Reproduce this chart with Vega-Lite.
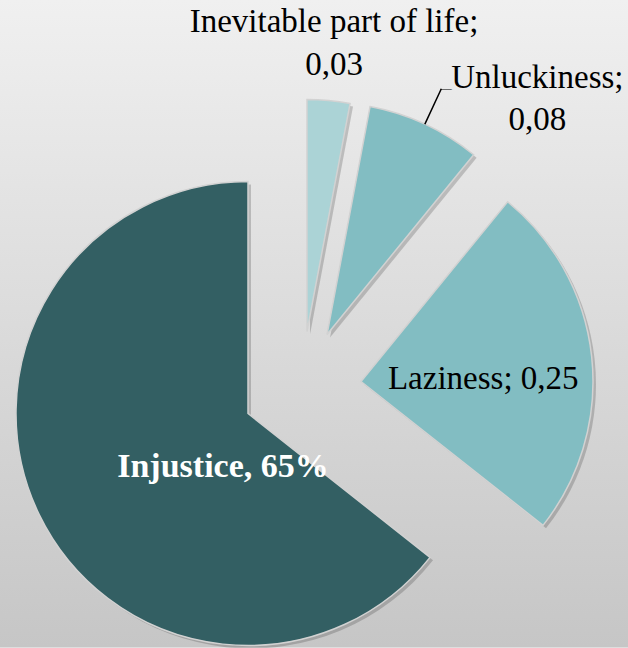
{
  "$schema": "https://vega.github.io/schema/vega-lite/v6.json",
  "width": 628,
  "height": 648,
  "autosize": {"type": "fit", "contains": "padding"},
  "padding": 0,
  "background": "#dedede",
  "config": {
    "view": {"stroke": null},
    "text": {"font": "Liberation Serif"}
  },
  "data": {"values": [
    {"category": "Inevitable part of life", "value": 0.03, "order": 1, "label": "Inevitable part of life;\n0,03"},
    {"category": "Unluckiness", "value": 0.08, "order": 2, "label": "Unluckiness;\n0,08"},
    {"category": "Laziness", "value": 0.25, "order": 3, "label": "Laziness; 0,25"},
    {"category": "Injustice", "value": 0.65, "order": 4, "label": "Injustice, 65%"}
  ]},
  "transform": [
    {"stack": "value", "groupby": [], "sort": [{"field": "order", "order": "ascending"}], "offset": "normalize", "as": ["v0", "v1"]},
    {"fold": ["v0", "v1"], "as": ["edge", "angle"]},
    {"aggregate": [{"op": "mean", "field": "angle", "as": "mid"}], "groupby": ["category", "label", "v0", "v1"]}
  ],
  "layer": [
    {
      "transform": [{"filter": "datum.category === 'Injustice'"}],
      "mark": {"type": "rect", "strokeWidth": 0,
        "fill": {"gradient": "linear", "x1": 0, "y1": 0, "x2": 0, "y2": 1,
          "stops": [{"offset": 0, "color": "#f0f0f0"}, {"offset": 1, "color": "#c6c6c6"}]}},
      "encoding": {}
    },
    {
      "transform": [{"filter": "datum.category === 'Injustice'"}],
      "mark": {"type": "arc", "radius": 232, "xOffset": -63, "yOffset": 93, "fill": "#000000", "opacity": 0.18},
      "encoding": {"theta": {"field": "v0", "type": "quantitative", "scale": {"domain": [0, 1]}, "stack": null}, "theta2": {"field": "v1"}}
    },
    {
      "transform": [{"filter": "datum.category === 'Laziness'"}],
      "mark": {"type": "arc", "radius": 232, "xOffset": 50, "yOffset": 61, "fill": "#000000", "opacity": 0.18},
      "encoding": {"theta": {"field": "v0", "type": "quantitative", "scale": {"domain": [0, 1]}, "stack": null}, "theta2": {"field": "v1"}}
    },
    {
      "transform": [{"filter": "datum.category === 'Unluckiness'"}],
      "mark": {"type": "arc", "radius": 232, "xOffset": 16, "yOffset": 14, "fill": "#000000", "opacity": 0.18},
      "encoding": {"theta": {"field": "v0", "type": "quantitative", "scale": {"domain": [0, 1]}, "stack": null}, "theta2": {"field": "v1"}}
    },
    {
      "transform": [{"filter": "datum.category === 'Inevitable part of life'"}],
      "mark": {"type": "arc", "radius": 232, "xOffset": -4, "yOffset": 11, "fill": "#000000", "opacity": 0.18},
      "encoding": {"theta": {"field": "v0", "type": "quantitative", "scale": {"domain": [0, 1]}, "stack": null}, "theta2": {"field": "v1"}}
    },
    {
      "transform": [{"filter": "datum.category === 'Injustice'"}],
      "mark": {"type": "arc", "radius": 232, "xOffset": -66, "yOffset": 90, "fill": "#335f63", "stroke": "#d2d2d2", "strokeWidth": 1.5},
      "encoding": {"theta": {"field": "v0", "type": "quantitative", "scale": {"domain": [0, 1]}, "stack": null}, "theta2": {"field": "v1"}}
    },
    {
      "transform": [{"filter": "datum.category === 'Laziness'"}],
      "mark": {"type": "arc", "radius": 232, "xOffset": 47, "yOffset": 58, "fill": "#82bdc2", "stroke": "#d2d2d2", "strokeWidth": 1.5},
      "encoding": {"theta": {"field": "v0", "type": "quantitative", "scale": {"domain": [0, 1]}, "stack": null}, "theta2": {"field": "v1"}}
    },
    {
      "transform": [{"filter": "datum.category === 'Unluckiness'"}],
      "mark": {"type": "arc", "radius": 232, "xOffset": 13, "yOffset": 11, "fill": "#82bdc2", "stroke": "#d2d2d2", "strokeWidth": 1.5},
      "encoding": {"theta": {"field": "v0", "type": "quantitative", "scale": {"domain": [0, 1]}, "stack": null}, "theta2": {"field": "v1"}}
    },
    {
      "transform": [{"filter": "datum.category === 'Inevitable part of life'"}],
      "mark": {"type": "arc", "radius": 232, "xOffset": -7, "yOffset": 8, "fill": "#abd3d6", "stroke": "#d2d2d2", "strokeWidth": 1.5},
      "encoding": {"theta": {"field": "v0", "type": "quantitative", "scale": {"domain": [0, 1]}, "stack": null}, "theta2": {"field": "v1"}}
    },
    {
      "transform": [{"filter": "datum.category === 'Unluckiness'"}],
      "mark": {"type": "arc", "radius": 271, "radius2": 232, "xOffset": 13, "yOffset": 11, "fill": null, "stroke": "#000000", "strokeWidth": 1.5},
      "encoding": {"theta": {"field": "mid", "type": "quantitative", "scale": {"domain": [0, 1]}, "stack": null}, "theta2": {"field": "mid"}}
    },
    {
      "transform": [{"filter": "datum.category === 'Unluckiness'"}],
      "mark": {"type": "text", "text": "—", "radius": 271, "xOffset": 13, "yOffset": 11, "dx": 5, "dy": 0, "fontSize": 11, "fontWeight": "bold", "align": "center", "baseline": "middle", "color": "#000000"},
      "encoding": {"theta": {"field": "mid", "type": "quantitative", "scale": {"domain": [0, 1]}, "stack": null}}
    },
    {
      "transform": [{"filter": "datum.category === 'Inevitable part of life'"}],
      "mark": {"type": "text", "radius": 290, "xOffset": -7, "yOffset": 8, "dy": -21, "fontSize": 33, "lineHeight": 43, "lineBreak": "\n", "align": "center", "baseline": "middle", "color": "#000000"},
      "encoding": {"theta": {"field": "mid", "type": "quantitative", "scale": {"domain": [0, 1]}, "stack": null}, "text": {"field": "label"}}
    },
    {
      "transform": [{"filter": "datum.category === 'Unluckiness'"}],
      "mark": {"type": "text", "radius": 290, "xOffset": 13, "yOffset": 11, "dx": 88, "dy": 6, "fontSize": 33, "lineHeight": 42, "lineBreak": "\n", "align": "center", "baseline": "middle", "color": "#000000"},
      "encoding": {"theta": {"field": "mid", "type": "quantitative", "scale": {"domain": [0, 1]}, "stack": null}, "text": {"field": "label"}}
    },
    {
      "transform": [{"filter": "datum.category === 'Laziness'"}],
      "mark": {"type": "text", "radius": 123, "xOffset": 47, "yOffset": 58, "dy": 11, "fontSize": 33, "align": "center", "baseline": "middle", "color": "#000000"},
      "encoding": {"theta": {"field": "mid", "type": "quantitative", "scale": {"domain": [0, 1]}, "stack": null}, "text": {"field": "label"}}
    },
    {
      "transform": [{"filter": "datum.category === 'Injustice'"}],
      "mark": {"type": "text", "radius": 60, "xOffset": -66, "yOffset": 90, "dx": 29, "dy": 27, "fontSize": 34, "fontWeight": "bold", "align": "center", "baseline": "middle", "color": "#ffffff"},
      "encoding": {"theta": {"field": "mid", "type": "quantitative", "scale": {"domain": [0, 1]}, "stack": null}, "text": {"field": "label"}}
    }
  ]
}
